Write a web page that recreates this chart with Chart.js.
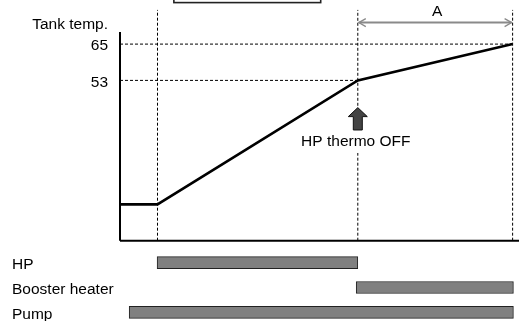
<!DOCTYPE html>
<html>
<head>
<meta charset="utf-8">
<script src="https://cdn.jsdelivr.net/npm/chart.js@4/dist/chart.umd.min.js"></script>
<style>
  html, body { margin:0; padding:0; background:#fff; width:519px; height:321px; overflow:hidden; }
  #c1 { position:absolute; left:0; top:0; }
  #c2 { position:absolute; left:0; top:241px; }
</style>
</head>
<body>
<canvas id="c1" width="519" height="250"></canvas>
<canvas id="c2" width="519" height="93"></canvas>
<script>
// ---- data (x in time units 0..100, y in tank temperature) ----
const tempX = [0, 9.4, 59.6, 98.4];
const tempY = [12, 12, 53, 65];
const yTickValues = [53, 65];
const yTickLabels = ['53', '65'];
const yAxisTitle = 'Tank temp.';
const hpStart = 9.4;
const thermoOff = 59.6;
const cycleEnd = 98.4;
const spanLabel = 'A';
const eventLabel = 'HP thermo OFF';
const categories = ['HP', 'Booster heater', 'Pump'];
const barStart = [9.3, 59.2, 2.3];
const barEnd = [59.6, 98.6, 98.6];

const FONT_FAMILY = '"Liberation Sans", Arial, sans-serif';
const FONT = '15.5px ' + FONT_FAMILY;

const X_MIN = 0, X_MAX = 100, Y_MIN = 0, Y_MAX = 77;
const Y_TOP_MARK = 76.3;   // top of vertical dashed guides
const Y_AXIS_TOP = 69;     // top of drawn y axis

const pts = (xs, ys) => xs.map((v, i) => ({x: v, y: ys[i]}));
const dashed = {borderColor:'#000', borderWidth:1, borderDash:[3,2], pointRadius:0, showLine:true, fill:false, clip:false};

const datasets = [
  Object.assign({data: pts([0, cycleEnd], [65, 65])}, dashed),
  Object.assign({data: pts([0, thermoOff], [53, 53])}, dashed),
  Object.assign({data: pts([hpStart, hpStart], [0, Y_TOP_MARK])}, dashed),
  Object.assign({data: [{x:thermoOff,y:0},{x:thermoOff,y:29},{x:thermoOff,y:null},{x:thermoOff,y:44.6},{x:thermoOff,y:Y_TOP_MARK}], spanGaps:false}, dashed),
  Object.assign({data: pts([cycleEnd, cycleEnd], [0, Y_TOP_MARK])}, dashed),
  {data: pts([0, X_MAX], [0, 0]), borderColor:'#000', borderWidth:2, pointRadius:0, showLine:true, clip:false},
  {data: pts([0, 0], [0, Y_AXIS_TOP]), borderColor:'#000', borderWidth:2, pointRadius:0, showLine:true, clip:false},
  {data: pts(tempX, tempY), borderColor:'#000', borderWidth:2.6, pointRadius:0, showLine:true, clip:false, borderJoinStyle:'miter'}
];

const overlay = {
  id: 'overlay',
  afterDatasetsDraw(chart) {
    const {ctx, scales: {x, y}} = chart;
    ctx.save();
    ctx.font = FONT;
    ctx.fillStyle = '#000';
    ctx.textBaseline = 'middle';
    ctx.textAlign = 'right';
    const ax = x.getPixelForValue(0);
    ctx.fillText(yAxisTitle, ax - 12, y.getPixelForValue(71.3));
    yTickValues.forEach((v, i) => ctx.fillText(yTickLabels[i], ax - 12, y.getPixelForValue(v) + 2));

    // span arrow "A"
    const x1 = x.getPixelForValue(thermoOff), x2 = x.getPixelForValue(cycleEnd);
    const ay = y.getPixelForValue(72.1);
    ctx.strokeStyle = '#8a8a8a';
    ctx.lineWidth = 2;
    ctx.beginPath(); ctx.moveTo(x1 + 1, ay); ctx.lineTo(x2 - 1, ay); ctx.stroke();
    ctx.lineWidth = 1.3;
    ctx.beginPath();
    ctx.moveTo(x1 + 8, ay - 4); ctx.lineTo(x1 + 1, ay); ctx.lineTo(x1 + 8, ay + 4);
    ctx.moveTo(x2 - 8, ay - 4); ctx.lineTo(x2 - 1, ay); ctx.lineTo(x2 - 8, ay + 4);
    ctx.stroke();
    ctx.textAlign = 'center';
    ctx.fillText(spanLabel, (x1 + x2) / 2 + 2, y.getPixelForValue(75.6));

    // block arrow at thermo OFF
    const tipY = y.getPixelForValue(44), baseY = y.getPixelForValue(36.6);
    const headY = tipY + 9;
    ctx.beginPath();
    ctx.moveTo(x1, tipY);
    ctx.lineTo(x1 + 9.5, headY);
    ctx.lineTo(x1 + 4.5, headY);
    ctx.lineTo(x1 + 4.5, baseY);
    ctx.lineTo(x1 - 4.5, baseY);
    ctx.lineTo(x1 - 4.5, headY);
    ctx.lineTo(x1 - 9.5, headY);
    ctx.closePath();
    ctx.fillStyle = '#444';
    ctx.fill();
    ctx.strokeStyle = '#111';
    ctx.lineWidth = 1;
    ctx.stroke();
    ctx.fillStyle = '#000';
    ctx.fillText(eventLabel, x1 - 2, y.getPixelForValue(32.7));

    // clipped title box at top
    const bx1 = x.getPixelForValue(13.5), bx2 = x.getPixelForValue(50.3);
    ctx.strokeStyle = '#222';
    ctx.lineWidth = 1.6;
    ctx.strokeRect(bx1, -10, bx2 - bx1, 12.6);
    ctx.restore();
  }
};

new Chart(document.getElementById('c1'), {
  type: 'scatter',
  data: {datasets},
  options: {
    responsive: false,
    animation: false,
    devicePixelRatio: 1,
    layout: {padding: {left: 120, right: 0, top: 7.8, bottom: 9.3}},
    plugins: {legend: {display: false}, tooltip: {enabled: false}},
    scales: {
      x: {type: 'linear', display: false, min: X_MIN, max: X_MAX},
      y: {type: 'linear', display: false, min: Y_MIN, max: Y_MAX}
    }
  },
  plugins: [overlay]
});

new Chart(document.getElementById('c2'), {
  type: 'bar',
  data: {
    labels: categories,
    datasets: [{
      data: barStart.map((s, i) => [s, barEnd[i]]),
      backgroundColor: '#808080',
      borderColor: '#222',
      borderWidth: 1,
      borderSkipped: false,
      barThickness: 12
    }]
  },
  options: {
    indexAxis: 'y',
    responsive: false,
    animation: false,
    devicePixelRatio: 1,
    layout: {padding: {left: 12, right: 0, top: 0, bottom: 0}},
    plugins: {legend: {display: false}, tooltip: {enabled: false}},
    scales: {
      x: {type: 'linear', display: false, min: X_MIN, max: X_MAX},
      y: {
        grid: {display: false, drawTicks: false},
        border: {display: false},
        ticks: {crossAlign: 'far', color: '#000', padding: 0, labelOffset: 2.5,
                font: {family: FONT_FAMILY, size: 15.5}},
        afterFit(scale) { scale.width = 108; }
      }
    }
  }
});
</script>
</body>
</html>
